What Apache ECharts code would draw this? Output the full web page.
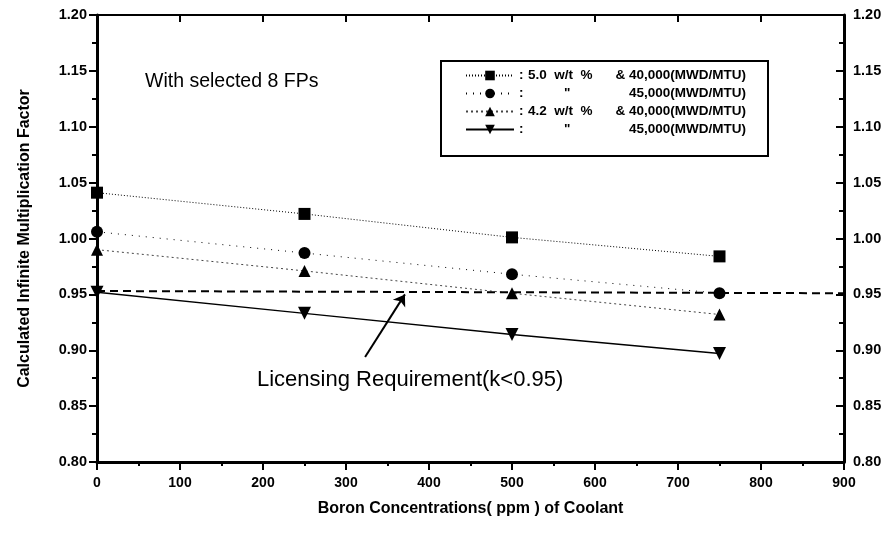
<!DOCTYPE html>
<html>
<head>
<meta charset="utf-8">
<script src="https://cdn.jsdelivr.net/npm/echarts@6/dist/echarts.min.js"></script>
<style>
  html, body { margin: 0; padding: 0; background: #fff; }
  #chart-container { width: 891px; height: 534px; }
</style>
</head>
<body>
<div id="chart-container"></div>
<script>
const boron = [0, 250, 500, 750];
const k50_40 = [1.041, 1.022, 1.001, 0.984];
const k50_45 = [1.006, 0.987, 0.968, 0.951];
const k42_40 = [0.990, 0.971, 0.951, 0.932];
const k42_45 = [0.952, 0.933, 0.914, 0.897];
const limitX = [0, 900];
const limitK = [0.953, 0.951];
const arrowFrom = [323, 0.894];
const arrowTo = [371, 0.950];
const seriesNames = ['5.0 40,000', '5.0 45,000', '4.2 40,000', '4.2 45,000'];

const FONT = '"Liberation Sans", Arial, sans-serif';
const pairs = (xs, ys) => xs.map((x, i) => [x, ys[i]]);

const chart = echarts.init(document.getElementById('chart-container'), null, { renderer: 'canvas' });

const legendText = {
  '5.0 40,000': '{c1|:}{t|5.0  w/t  %}{b|& 40,000(MWD/MTU)}',
  '5.0 45,000': '{c2|:}{q|"}{b|45,000(MWD/MTU)}',
  '4.2 40,000': '{c1|:}{t|4.2  w/t  %}{b|& 40,000(MWD/MTU)}',
  '4.2 45,000': '{c2|:}{q|"}{b|45,000(MWD/MTU)}'
};

const lineSeries = (name, data, symbol, size, lineStyle) => ({
  name,
  type: 'line',
  data: pairs(boron, data),
  symbol,
  symbolSize: size,
  itemStyle: { color: '#000' },
  lineStyle: Object.assign({ color: '#000', width: 1 }, lineStyle),
  emphasis: { disabled: true },
  animation: false
});

const legendRich = (w, extra) => Object.assign({ width: w, fontSize: 13.5, lineHeight: 15, fontWeight: 'bold', fontFamily: FONT, color: '#000' }, extra);

const option = {
  animation: false,
  grid: { left: 97, right: 47, top: 15, bottom: 72 },
  textStyle: { fontFamily: FONT },
  legend: {
    data: seriesNames,
    orient: 'vertical',
    left: 465,
    top: 68,
    padding: 0,
    itemWidth: 48,
    itemHeight: 12,
    itemGap: 3,
    selectedMode: false,
    formatter: n => legendText[n],
    textStyle: {
      fontFamily: FONT,
      fontSize: 13.5,
      lineHeight: 15,
      fontWeight: 'bold',
      color: '#000',
      rich: {
        c1: legendRich(9),
        c2: legendRich(45),
        t: legendRich(88),
        q: legendRich(52),
        b: legendRich(130, { align: 'right' })
      }
    }
  },
  xAxis: [
    {
      type: 'value',
      min: 0, max: 900, interval: 100,
      name: 'Boron Concentrations( ppm ) of Coolant',
      nameLocation: 'middle',
      nameGap: 39,
      nameTextStyle: { fontSize: 16, fontWeight: 'bold', color: '#000', fontFamily: FONT },
      axisLine: { show: true, onZero: false, lineStyle: { color: '#000', width: 3 } },
      axisTick: { show: true, inside: false, length: 8, lineStyle: { color: '#000', width: 2 } },
      minorTick: { show: true, splitNumber: 2, length: 4, lineStyle: { color: '#000', width: 2 } },
      axisLabel: { margin: 14, fontSize: 14, fontWeight: 'bold', color: '#000', fontFamily: FONT },
      splitLine: { show: false }
    },
    {
      type: 'value',
      position: 'top',
      min: 0, max: 900, interval: 100,
      axisLine: { show: true, onZero: false, lineStyle: { color: '#000', width: 2 } },
      axisTick: { show: true, inside: true, length: 7, lineStyle: { color: '#000', width: 2 } },
      minorTick: { show: false },
      axisLabel: { show: false },
      splitLine: { show: false }
    }
  ],
  yAxis: [
    {
      type: 'value',
      min: 0.80, max: 1.20, interval: 0.05,
      name: 'Calculated Infinite Multiplication Factor',
      nameLocation: 'middle',
      nameGap: 64,
      nameTextStyle: { fontSize: 16, fontWeight: 'bold', color: '#000', fontFamily: FONT },
      axisLine: { show: true, onZero: false, lineStyle: { color: '#000', width: 3 } },
      axisTick: { show: true, inside: false, length: 8, lineStyle: { color: '#000', width: 2 } },
      minorTick: { show: true, splitNumber: 2, length: 5, lineStyle: { color: '#000', width: 2 } },
      axisLabel: { margin: 10, fontSize: 14.5, fontWeight: 'bold', color: '#000', fontFamily: FONT,
        formatter: v => v.toFixed(2) },
      splitLine: { show: false }
    },
    {
      type: 'value',
      position: 'right',
      min: 0.80, max: 1.20, interval: 0.05,
      axisLine: { show: true, onZero: false, lineStyle: { color: '#000', width: 3 } },
      axisTick: { show: true, inside: true, length: 8, lineStyle: { color: '#000', width: 2 } },
      minorTick: { show: true, splitNumber: 2, length: 5, lineStyle: { color: '#000', width: 2 } },
      axisLabel: { margin: 9, fontSize: 14.5, fontWeight: 'bold', color: '#000', fontFamily: FONT,
        formatter: v => v.toFixed(2) },
      splitLine: { show: false }
    }
  ],
  graphic: [
    {
      type: 'rect',
      shape: { x: 441, y: 61, width: 327, height: 95 },
      style: { fill: 'none', stroke: '#000', lineWidth: 2 },
      z: 10
    },
    {
      type: 'text',
      left: 145, top: 72,
      style: { text: 'With selected 8 FPs', font: '19.5px ' + FONT, fill: '#000' },
      z: 10
    },
    {
      type: 'text',
      left: 257, top: 369,
      style: { text: 'Licensing Requirement(k<0.95)', font: '22px ' + FONT, fill: '#000' },
      z: 10
    }
  ],
  series: [
    lineSeries(seriesNames[0], k50_40, 'rect', 12, { type: [1, 2] }),
    lineSeries(seriesNames[1], k50_45, 'circle', 12, { type: [1, 6] }),
    lineSeries(seriesNames[2], k42_40, 'triangle', 12, { type: [2, 3], color: '#444' }),
    lineSeries(seriesNames[3], k42_45, 'path://M0,0L10,0L5,9Z', 13, { width: 1.5 }),
    {
      name: 'limit',
      type: 'line',
      data: pairs(limitX, limitK),
      symbol: 'none',
      lineStyle: { color: '#000', width: 2, type: [8, 5] },
      emphasis: { disabled: true },
      markLine: {
        silent: true,
        symbol: ['none', 'arrow'],
        symbolSize: 11,
        label: { show: false },
        lineStyle: { color: '#000', width: 2, type: 'solid' },
        data: [[{ coord: arrowFrom }, { coord: arrowTo }]]
      }
    }
  ]
};

chart.setOption(option);
</script>
</body>
</html>
